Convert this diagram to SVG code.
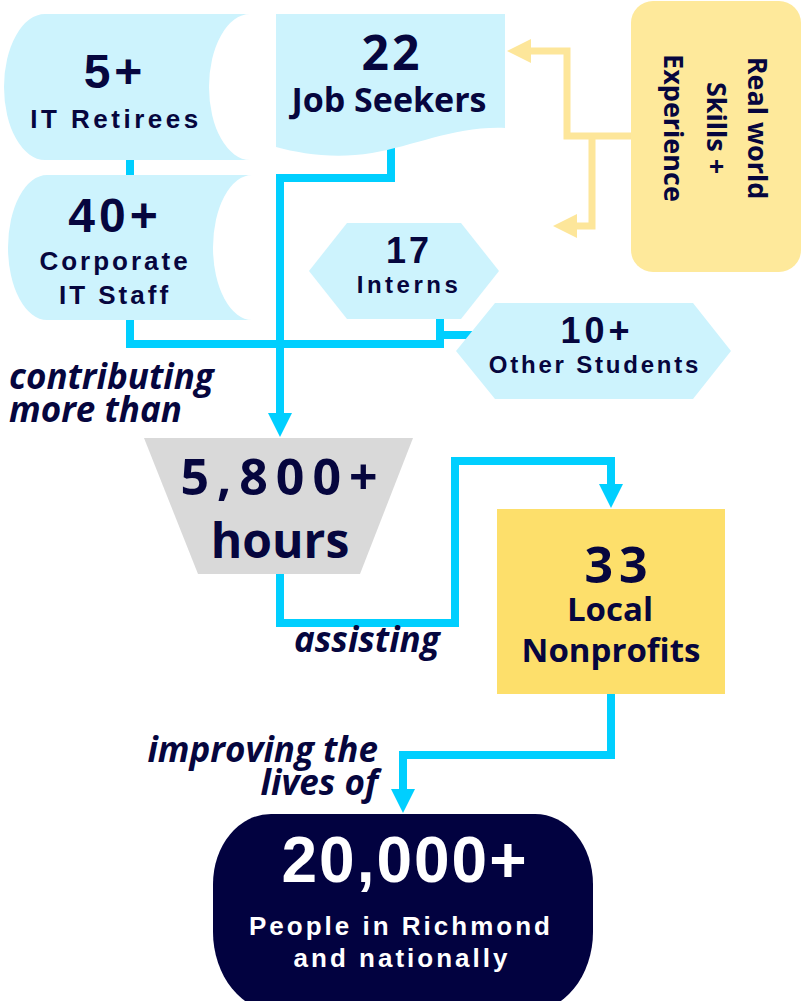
<svg xmlns="http://www.w3.org/2000/svg" width="806" height="1001" viewBox="0 0 806 1001">
<defs>
<style>
.lb{fill:#cdf3fd}
.plex{font-family:"Liberation Sans",Arial,sans-serif;font-weight:bold;fill:#06063e;text-anchor:middle}
.seg{font-family:"Open Sans","Noto Sans",sans-serif;font-weight:bold;fill:#06063e;text-anchor:middle}
.it{font-family:"Open Sans","Noto Sans",sans-serif;font-weight:bold;font-style:italic;fill:#06063e;font-size:35px}
.wt{fill:#ffffff}
.cy{fill:none;stroke:#00cfff;stroke-width:8}
.yl{fill:none;stroke:#fde69a;stroke-width:7}
</style>
<marker id="ac" markerUnits="userSpaceOnUse" markerWidth="24" markerHeight="24" viewBox="0 0 24 24" refX="0" refY="12" orient="auto"><path d="M0,0 L24,12 L0,24 Z" fill="#00cfff"/></marker>
<marker id="ay" markerUnits="userSpaceOnUse" markerWidth="24" markerHeight="24" viewBox="0 0 24 24" refX="0" refY="12" orient="auto"><path d="M0,0 L24,12 L0,24 Z" fill="#fde69a"/></marker>
</defs>
<g id="connectors">
<path class="cy" d="M130 158 V177"/>
<path class="cy" d="M130 318 V344 H440 V318"/>
<path class="cy" d="M436 335 H476"/>
<path class="cy" d="M391 146 V178 H280 V413" marker-end="url(#ac)"/>
<path class="cy" d="M280 572 V623 H455 V461 H611 V484" marker-end="url(#ac)"/>
<path class="cy" d="M611 692 V755 H403 V789" marker-end="url(#ac)"/>
<path class="yl" d="M633 136 H567 V51 H531" marker-end="url(#ay)"/>
<path class="yl" d="M592 136 V226 H577" marker-end="url(#ay)"/>
</g>
<g id="it-retirees">
<path class="lb" d="M45 14 H250 A41 73 0 0 0 209 87 A41 73 0 0 0 250 160 H45 A41 73 0 0 1 4 87 A41 73 0 0 1 45 14 Z"/>
<text class="plex" x="115" y="88" font-size="48" letter-spacing="4">5+</text>
<text class="plex" x="116" y="128" font-size="26" letter-spacing="3.5">IT Retirees</text>
</g>
<g id="job-seekers">
<path class="lb" d="M276 14 H505 V128 C455 126 415 146 372 153 C335 159 302 154 276 147 Z"/>
<text class="seg" x="392" y="70" font-size="48" letter-spacing="3">22</text>
<text class="seg" x="389" y="112" font-size="34">Job Seekers</text>
</g>
<g id="real-world">
<rect x="631" y="1" width="170" height="271" rx="22" fill="#fee99b"/>
<text class="seg" font-size="27" transform="translate(748,128) rotate(90)">Real world</text>
<text class="seg" font-size="27" transform="translate(707,128) rotate(90)">Skills +</text>
<text class="seg" font-size="27" transform="translate(664,128) rotate(90)">Experience</text>
</g>
<g id="corporate-it">
<path class="lb" d="M47 175 H252 A39 72.5 0 0 0 213 247.5 A39 72.5 0 0 0 252 320 H47 A39 72.5 0 0 1 8 247.5 A39 72.5 0 0 1 47 175 Z"/>
<text class="plex" x="115" y="232" font-size="48" letter-spacing="4">40+</text>
<text class="plex" x="115" y="270" font-size="26" letter-spacing="3">Corporate</text>
<text class="plex" x="115" y="304" font-size="26" letter-spacing="3">IT Staff</text>
</g>
<g id="interns">
<polygon class="lb" points="309,271 347,223 461,223 499,271 461,319 347,319"/>
<text class="plex" x="409" y="263" font-size="36" letter-spacing="3">17</text>
<text class="plex" x="409" y="293" font-size="24" letter-spacing="3.5">Interns</text>
</g>
<g id="other-students">
<polygon class="lb" points="456,351 495,303 693,303 731,351 693,399 495,399"/>
<text class="plex" x="597" y="343" font-size="36" letter-spacing="4">10+</text>
<text class="plex" x="595" y="373" font-size="24" letter-spacing="2.8">Other Students</text>
</g>
<g id="label-contributing">
<text class="it" x="9" y="389">contributing</text>
<text class="it" x="9" y="422">more than</text>
</g>
<g id="hours">
<polygon points="144,438 413,438 360,574 198,574" fill="#d9d9d9"/>
<text class="seg" x="283" y="495" font-size="50" letter-spacing="8">5,800+</text>
<text class="seg" x="280" y="558" font-size="48">hours</text>
</g>
<g id="label-assisting">
<text class="it" x="294" y="652">assisting</text>
</g>
<g id="nonprofits">
<rect x="497" y="509" width="228" height="185" fill="#fddf6b"/>
<text class="seg" x="619" y="583" font-size="50" letter-spacing="6">33</text>
<text class="seg" x="610" y="621" font-size="33">Local</text>
<text class="seg" x="611" y="662" font-size="33">Nonprofits</text>
</g>
<g id="label-improving">
<text class="it" x="378" y="762" text-anchor="end">improving the</text>
<text class="it" x="378" y="795" text-anchor="end">lives of</text>
</g>
<g id="people">
<path d="M271 814 H535 A58 70 0 0 1 593 884 V932 A65 80 0 0 1 528 1012 H278 A65 80 0 0 1 213 932 V884 A58 70 0 0 1 271 814 Z" fill="#020240"/>
<text class="plex wt" x="405" y="882" font-size="64" letter-spacing="2">20,000+</text>
<text class="plex wt" x="401" y="935" font-size="26" letter-spacing="3">People in Richmond</text>
<text class="plex wt" x="402" y="967" font-size="26" letter-spacing="3">and nationally</text>
</g>
</svg>
